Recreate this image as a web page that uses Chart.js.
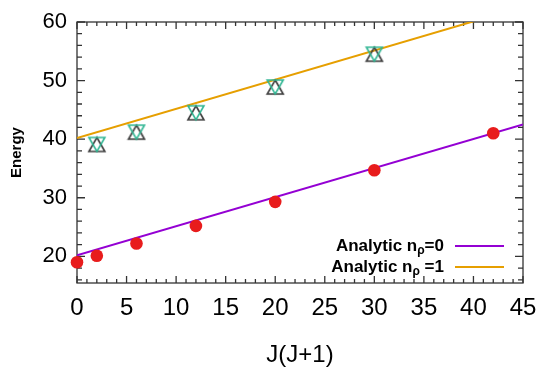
<!DOCTYPE html>
<html>
<head>
<meta charset="utf-8">
<script src="https://cdn.jsdelivr.net/npm/chart.js@4.4.0/dist/chart.umd.min.js"></script>
<style>
  html, body { margin: 0; padding: 0; background: #fff; }
  #wrap { width: 541px; height: 370px; }
</style>
</head>
<body>
<div id="wrap"><canvas id="energyChart" width="541" height="370"></canvas></div>
<script>
// J(J+1) values and energies
const jValues = [0, 2, 6, 12, 20, 30, 42];
const energyN0 = [19.0, 20.1, 22.2, 25.2, 29.3, 34.7, 41.0];
const jValuesN1 = [2, 6, 12, 20, 30];
const energyN1Up = [39.1, 41.2, 44.5, 48.9, 54.5];
const energyN1Down = [39.1, 41.2, 44.5, 48.9, 54.5];
// analytic lines (end points)
const analyticX = [0, 45];
const analyticN0 = [20.2, 42.5];
const analyticN1 = [40.2, 62.6];
const xTicks = [0, 5, 10, 15, 20, 25, 30, 35, 40, 45];
const yTicks = [20, 30, 40, 50, 60];
const legendRows = [
  { text: 'Analytic n', sub: 'ρ', tail: '=0', color: '#9400d3' },
  { text: 'Analytic n', sub: 'ρ', tail: ' =1', color: '#e69f00' }
];

const FONT = "'Liberation Sans', Arial, sans-serif";
const AXIS = '#333333';

function pts(xs, ys) {
  return xs.map((x, i) => ({ x: x, y: ys[i] }));
}

// open triangle centred on its bounding box (like gnuplot's)
function triangleMarker(up, color) {
  const w = 16, h = 14, lw = 1.6;
  const c = document.createElement('canvas');
  c.width = w + 4;
  c.height = h + 4;
  const g = c.getContext('2d');
  g.strokeStyle = color;
  g.lineWidth = lw;
  g.beginPath();
  if (up) {
    g.moveTo(2 + w / 2, 2);
    g.lineTo(2 + w, 2 + h);
    g.lineTo(2, 2 + h);
  } else {
    g.moveTo(2, 2);
    g.lineTo(2 + w, 2);
    g.lineTo(2 + w / 2, 2 + h);
  }
  g.closePath();
  g.stroke();
  return c;
}

const framePlugin = {
  id: 'frame',
  beforeDatasetsDraw(chart) {
    const { ctx, chartArea: a, scales: { x, y } } = chart;
    ctx.save();
    ctx.strokeStyle = AXIS;
    ctx.lineWidth = 1.3;
    ctx.beginPath();
    for (let v = 0; v <= 45; v += 1) {
      const px = x.getPixelForValue(v);
      const len = v % 5 === 0 ? 7 : 4;
      ctx.moveTo(px, a.bottom); ctx.lineTo(px, a.bottom - len);
      ctx.moveTo(px, a.top); ctx.lineTo(px, a.top + len);
    }
    for (let v = 16; v <= 60; v += 2) {
      const py = y.getPixelForValue(v);
      const len = v % 10 === 0 ? 8 : 5;
      ctx.moveTo(a.left, py); ctx.lineTo(a.left + len, py);
      ctx.moveTo(a.right, py); ctx.lineTo(a.right - len, py);
    }
    ctx.stroke();
    ctx.strokeRect(a.left, a.top, a.right - a.left, a.bottom - a.top);
    ctx.restore();
  },
  afterDraw(chart) {
    const ctx = chart.ctx;
    const rightEdge = 444;
    const rowY = [246, 267];
    ctx.save();
    ctx.fillStyle = '#000';
    ctx.textBaseline = 'middle';
    ctx.textAlign = 'left';
    legendRows.forEach((r, i) => {
      const big = 'bold 17px ' + FONT;
      const small = 'bold 12px ' + FONT;
      ctx.font = big;
      const w1 = ctx.measureText(r.text).width;
      const w3 = ctx.measureText(r.tail).width;
      ctx.font = small;
      const w2 = ctx.measureText(r.sub).width;
      let xPos = rightEdge - w1 - w2 - w3;
      const yPos = rowY[i];
      ctx.font = big;
      ctx.fillText(r.text, xPos, yPos);
      xPos += w1;
      ctx.font = small;
      ctx.fillText(r.sub, xPos, yPos + 5);
      xPos += w2;
      ctx.font = big;
      ctx.fillText(r.tail, xPos, yPos);
      ctx.strokeStyle = r.color;
      ctx.lineWidth = 2;
      ctx.beginPath();
      ctx.moveTo(455, yPos);
      ctx.lineTo(504, yPos);
      ctx.stroke();
    });
    ctx.restore();
  }
};

const ctx = document.getElementById('energyChart').getContext('2d');
new Chart(ctx, {
  type: 'scatter',
  data: {
    datasets: [
      {
        label: 'nρ=0',
        data: pts(jValues, energyN0),
        pointStyle: 'circle',
        pointRadius: 6.3,
        backgroundColor: '#e81c1c',
        borderWidth: 0,
        clip: false
      },
      {
        label: 'nρ=1 down',
        data: pts(jValuesN1, energyN1Down),
        pointStyle: triangleMarker(false, '#2fb592'),
        clip: false
      },
      {
        label: 'nρ=1 up',
        data: pts(jValuesN1, energyN1Up),
        pointStyle: triangleMarker(true, '#3a3a3a'),
        clip: false
      },
      {
        type: 'line',
        label: 'Analytic nρ=0',
        data: pts(analyticX, analyticN0),
        borderColor: '#9400d3',
        borderWidth: 2,
        pointRadius: 0,
        fill: false,
        clip: 0
      },
      {
        type: 'line',
        label: 'Analytic nρ=1',
        data: pts(analyticX, analyticN1),
        borderColor: '#e69f00',
        borderWidth: 2,
        pointRadius: 0,
        fill: false,
        clip: 0
      }
    ]
  },
  options: {
    responsive: false,
    animation: false,
    devicePixelRatio: 1,
    layout: { padding: { left: 0, right: 18, top: 22, bottom: 0 } },
    plugins: {
      legend: { display: false },
      tooltip: { enabled: false }
    },
    scales: {
      x: {
        type: 'linear',
        min: 0,
        max: 45,
        afterBuildTicks: s => { s.ticks = xTicks.map(v => ({ value: v })); },
        afterFit: s => { s.height = 87; s.paddingLeft = 0; s.paddingRight = 0; },
        grid: { display: false, drawTicks: false },
        border: { display: false },
        ticks: { color: '#000', padding: 11, font: { family: FONT, size: 24 } },
        title: {
          display: true,
          text: 'J(J+1)',
          color: '#000',
          padding: { top: 0, bottom: 0 },
          font: { family: FONT, size: 24 }
        }
      },
      y: {
        type: 'linear',
        min: 15.45,
        max: 60,
        afterBuildTicks: s => { s.ticks = yTicks.map(v => ({ value: v })); },
        afterFit: s => { s.width = 77; s.paddingTop = 0; s.paddingBottom = 0; },
        grid: { display: false, drawTicks: false },
        border: { display: false },
        ticks: { color: '#000', padding: 10, font: { family: FONT, size: 22 } },
        title: {
          display: true,
          text: 'Energy',
          color: '#000',
          padding: { top: 8, bottom: 0 },
          font: { family: FONT, size: 15, weight: 'bold' }
        }
      }
    }
  },
  plugins: [framePlugin]
});
</script>
</body>
</html>
